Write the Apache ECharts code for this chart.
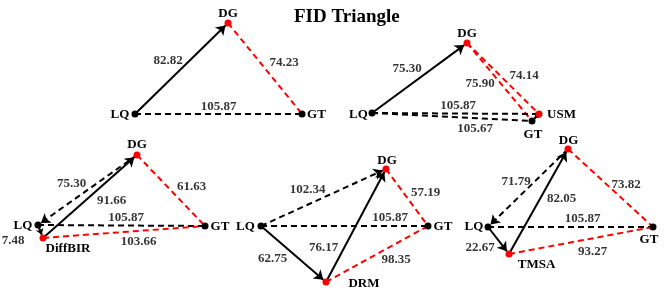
<!DOCTYPE html>
<html>
<head>
<meta charset="utf-8">
<script src="https://cdn.jsdelivr.net/npm/echarts@6/dist/echarts.min.js"></script>
<style>html,body{margin:0;padding:0;background:#fff}#c{width:668px;height:293px}</style>
</head>
<body>
<div id="c"></div>
<script>
// ---------- DATA ----------
const titleText = 'FID Triangle';

// Panel 1
const p1Nodes = ['LQ', 'DG', 'GT'];
const p1X = [135, 228, 302];
const p1Y = [114, 23, 114];
const p1Edges = [['LQ', 'DG'], ['DG', 'GT'], ['LQ', 'GT']];
const p1FID = [82.82, 74.23, 105.87];

// Panel 2
const p2Nodes = ['LQ', 'DG', 'USM', 'GT'];
const p2X = [372, 467, 539, 532];
const p2Y = [113, 43, 114, 121];
const p2Edges = [['LQ', 'DG'], ['DG', 'USM'], ['DG', 'GT'], ['LQ', 'USM'], ['LQ', 'GT'], ['USM', 'GT']];
const p2FID = [75.30, 74.14, 75.90, 105.87, 105.67, null];

// Panel 3
const p3Nodes = ['LQ', 'DG', 'GT', 'DiffBIR'];
const p3X = [38, 137, 205, 43];
const p3Y = [225, 155, 226, 238];
const p3Edges = [['DG', 'LQ'], ['LQ', 'DiffBIR'], ['DiffBIR', 'DG'], ['DG', 'GT'], ['LQ', 'GT'], ['DiffBIR', 'GT']];
const p3FID = [75.30, 7.48, 91.66, 61.63, 105.87, 103.66];

// Panel 4
const p4Nodes = ['LQ', 'DG', 'GT', 'DRM'];
const p4X = [261, 386, 428, 326];
const p4Y = [226, 169, 226, 282];
const p4Edges = [['LQ', 'DG'], ['LQ', 'DRM'], ['DRM', 'DG'], ['DG', 'GT'], ['LQ', 'GT'], ['DRM', 'GT']];
const p4FID = [102.34, 62.75, 76.17, 57.19, 105.87, 98.35];

// Panel 5
const p5Nodes = ['LQ', 'DG', 'GT', 'TMSA'];
const p5X = [488, 568, 653, 509];
const p5Y = [227, 149, 227, 254];
const p5Edges = [['DG', 'LQ'], ['LQ', 'TMSA'], ['TMSA', 'DG'], ['DG', 'GT'], ['LQ', 'GT'], ['TMSA', 'GT']];
const p5FID = [71.79, 22.67, 82.05, 73.82, 105.87, 93.27];

// ---------- STYLES ----------
const p1NodeColor = ['k', 'r', 'k'];
const p2NodeColor = ['k', 'r', 'r', 'k'];
const p3NodeColor = ['k', 'r', 'k', 'r'];
const p4NodeColor = ['k', 'r', 'k', 'r'];
const p5NodeColor = ['k', 'r', 'k', 'r'];

const p1EdgeKind = ['solidArrow', 'redDash', 'blackDash'];
const p2EdgeKind = ['solidArrow', 'redDash', 'redDash', 'blackDash', 'blackDash', 'smallArrow'];
const p3EdgeKind = ['dashArrow', 'smallArrow', 'solidArrow', 'redDash', 'blackDash', 'redDash'];
const p4EdgeKind = ['dashArrow', 'solidArrow', 'solidArrow', 'redDash', 'blackDash', 'redDash'];
const p5EdgeKind = ['dashArrow', 'solidArrow', 'solidArrow', 'redDash', 'blackDash', 'redDash'];

const p1NodeLabelOffset = [[-15, 1], [0, -9.5], [14.5, 1]];
const p2NodeLabelOffset = [[-13.5, 1.5], [0, -9.5], [22.5, 0.5], [1, 14]];
const p3NodeLabelOffset = [[-15, 0.5], [0, -10], [15, 1], [25, 10.5]];
const p4NodeLabelOffset = [[-15.5, 1], [1, -8.5], [15, 1], [38, 1.5]];
const p5NodeLabelOffset = [[-14, 0], [0.5, -8], [-4, 13], [27.5, 10.5]];

const p1EdgeLabelOffset = [[-13.5, -7.5], [19, -5.5], [0, -7]];
const p2EdgeLabelOffset = [[-12.5, -9], [21, -2.5], [-19.5, 2], [2.5, -7.5], [23, 12], [0, 0]];
const p3EdgeLabelOffset = [[-16, -6], [-27.5, 9.5], [21.5, 4], [20.5, -4], [4.5, -8], [14.5, 10]];
const p4EdgeLabelOffset = [[-16, -7.5], [-21, 4.5], [-32.5, 22], [18.5, -5], [45.5, -8.5], [19, 5.5]];
const p5EdgeLabelOffset = [[-12, -6.5], [-18.5, 7], [23, -3], [15.5, -3], [12, -8.5], [11.5, 11]];

const FONT = 'Liberation Serif, Times New Roman, serif';
const COLORS = { k: '#000000', r: '#ff0000' };
const KIND = {
  solidArrow: { color: '#000', type: 'solid', symbol: ['none', 'arrow'], size: [0, 9] },
  smallArrow: { color: '#000', type: 'solid', symbol: ['none', 'arrow'], size: [0, 6] },
  dashArrow: { color: '#000', type: [6, 4], symbol: ['none', 'arrow'], size: [0, 9] },
  blackDash: { color: '#000', type: [6, 4], symbol: ['none', 'none'], size: [0, 0] },
  redDash: { color: '#ff0000', type: [6, 4], symbol: ['none', 'none'], size: [0, 0] }
};

const panels = [
  [p1Nodes, p1X, p1Y, p1Edges, p1FID, p1NodeColor, p1EdgeKind, p1NodeLabelOffset, p1EdgeLabelOffset],
  [p2Nodes, p2X, p2Y, p2Edges, p2FID, p2NodeColor, p2EdgeKind, p2NodeLabelOffset, p2EdgeLabelOffset],
  [p3Nodes, p3X, p3Y, p3Edges, p3FID, p3NodeColor, p3EdgeKind, p3NodeLabelOffset, p3EdgeLabelOffset],
  [p4Nodes, p4X, p4Y, p4Edges, p4FID, p4NodeColor, p4EdgeKind, p4NodeLabelOffset, p4EdgeLabelOffset],
  [p5Nodes, p5X, p5Y, p5Edges, p5FID, p5NodeColor, p5EdgeKind, p5NodeLabelOffset, p5EdgeLabelOffset]
];

const series = [];
panels.forEach(function (p) {
  const [names, xs, ys, edges, fid, ncol, ekind, nlo, elo] = p;
  series.push({
    type: 'graph',
    coordinateSystem: 'cartesian2d',
    silent: true,
    animation: false,
    data: names.map(function (n, i) {
      return {
        name: n,
        value: [xs[i], ys[i]],
        symbol: 'circle',
        symbolSize: 7,
        itemStyle: { color: COLORS[ncol[i]] },
        label: {
          show: true, position: 'inside', offset: nlo[i], formatter: n,
          color: '#000', fontFamily: FONT, fontWeight: 'bold', fontSize: 13,
          textBorderWidth: 0
        }
      };
    }),
    links: edges.map(function (e, i) {
      const k = KIND[ekind[i]];
      return {
        source: e[0], target: e[1],
        symbol: k.symbol, symbolSize: k.size,
        lineStyle: { color: k.color, type: k.type, width: 2, opacity: 1, curveness: 0 }
      };
    }),
    z: 2
  });
  const idx = {};
  names.forEach(function (n, i) { idx[n] = i; });
  series.push({
    type: 'scatter',
    silent: true,
    animation: false,
    symbolSize: 1,
    itemStyle: { color: 'transparent' },
    z: 3,
    data: edges.map(function (e, i) {
      const a = idx[e[0]], b = idx[e[1]];
      return {
        value: [(xs[a] + xs[b]) / 2, (ys[a] + ys[b]) / 2],
        label: {
          show: fid[i] != null, position: 'inside', offset: elo[i],
          formatter: fid[i] != null ? fid[i].toFixed(2) : '',
          color: '#000', fontFamily: FONT, fontWeight: 'bold', fontSize: 13
        }
      };
    })
  });
});

const chart = echarts.init(document.getElementById('c'), null, { renderer: 'canvas' });
chart.setOption({
  backgroundColor: '#fff',
  animation: false,
  title: {
    text: titleText, left: 289, top: 3,
    textStyle: { fontFamily: FONT, fontWeight: 'bold', fontSize: 19, color: '#000' }
  },
  grid: { left: 0, right: 0, top: 0, bottom: 0 },
  xAxis: { type: 'value', min: 0, max: 668, show: false },
  yAxis: { type: 'value', min: 0, max: 293, inverse: true, show: false },
  series: series
});
</script>
</body>
</html>
